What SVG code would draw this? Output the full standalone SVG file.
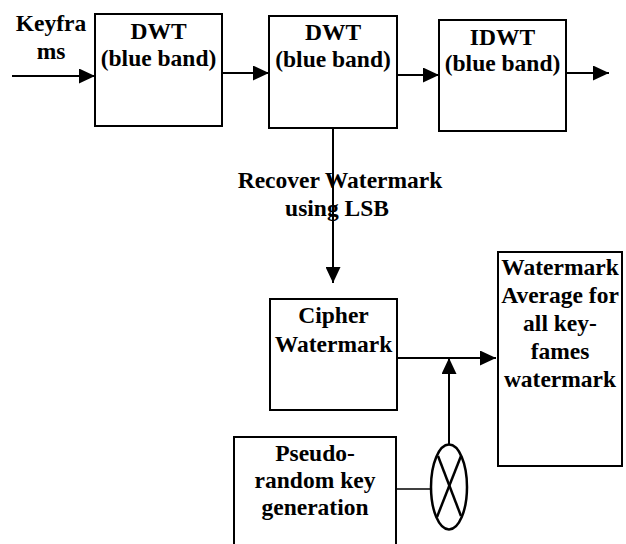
<svg xmlns="http://www.w3.org/2000/svg" width="626" height="544" viewBox="0 0 626 544">
<style>
.box{fill:#fff;stroke:#000;stroke-width:2}
.t{font-family:"Liberation Serif","Times New Roman",serif;font-weight:bold;font-size:23.5px;fill:#000;text-anchor:middle}
.c{stroke:#000;stroke-width:2;fill:none}
</style>
<defs>
<marker id="ah" viewBox="0 0 16 15" refX="16" refY="7.5" markerWidth="16" markerHeight="15" markerUnits="userSpaceOnUse" orient="auto">
<path d="M0,0 L16,7.5 L0,15 z" fill="#000"/>
</marker>
</defs>
<rect width="626" height="544" fill="#fff"/>
<g id="connectors">
<line class="c" x1="12" y1="76" x2="95" y2="76" marker-end="url(#ah)"/>
<line class="c" x1="222" y1="73" x2="269" y2="73" marker-end="url(#ah)"/>
<line class="c" x1="397" y1="75" x2="439" y2="75" marker-end="url(#ah)"/>
<line class="c" x1="566" y1="73" x2="609" y2="73" marker-end="url(#ah)"/>
<line class="c" x1="333" y1="128" x2="333" y2="283" marker-end="url(#ah)"/>
<line class="c" x1="397" y1="358" x2="496" y2="358" marker-end="url(#ah)"/>
<line class="c" x1="449" y1="445" x2="449" y2="358" marker-end="url(#ah)"/>
<line stroke="#000" stroke-width="1.4" x1="396" y1="489" x2="431" y2="489"/>
</g>
<g id="label-keyframes">
<text class="t" x="51" y="31">Keyfra</text>
<text class="t" x="51" y="59">ms</text>
</g>
<g id="dwt1">
<rect class="box" x="95" y="14" width="127" height="112"/>
<text class="t" x="158.5" y="39">DWT</text>
<text class="t" x="158.5" y="66">(blue band)</text>
</g>
<g id="dwt2">
<rect class="box" x="269" y="16" width="128" height="112"/>
<text class="t" x="333" y="40">DWT</text>
<text class="t" x="333" y="67">(blue band)</text>
</g>
<g id="idwt">
<rect class="box" x="439" y="20" width="127" height="111"/>
<text class="t" x="502.5" y="45">IDWT</text>
<text class="t" x="502.5" y="71">(blue band)</text>
</g>
<g id="label-recover">
<text class="t" x="340" y="188">Recover Watermark</text>
<text class="t" x="337" y="216">using LSB</text>
</g>
<g id="cipher">
<rect class="box" x="270" y="299" width="127" height="111"/>
<text class="t" x="333.5" y="323">Cipher</text>
<text class="t" x="333.5" y="352">Watermark</text>
</g>
<g id="average">
<rect class="box" x="498" y="252" width="124" height="214"/>
<text class="t" x="560" y="275">Watermark</text>
<text class="t" x="560" y="303">Average for</text>
<text class="t" x="560" y="331">all key-</text>
<text class="t" x="560" y="359">fames</text>
<text class="t" x="560" y="387">watermark</text>
</g>
<g id="pseudo">
<rect class="box" x="234" y="437" width="162" height="120"/>
<text class="t" x="315" y="461">Pseudo-</text>
<text class="t" x="315" y="488">random key</text>
<text class="t" x="315" y="515">generation</text>
</g>
<g id="multiplier">
<ellipse cx="449" cy="487" rx="18" ry="42.5" fill="#fff" stroke="#000" stroke-width="2.5"/>
<line stroke="#000" stroke-width="2.5" x1="438" y1="456" x2="461" y2="516"/>
<line stroke="#000" stroke-width="2.5" x1="461" y1="456" x2="437" y2="517"/>
</g>
</svg>
